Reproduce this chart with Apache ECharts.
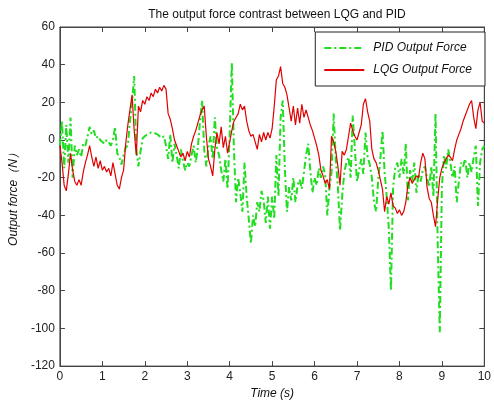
<!DOCTYPE html>
<html>
<head>
<meta charset="utf-8">
<style>
  html, body { margin: 0; padding: 0; background: #fff; }
  #chart { width: 494px; height: 405px; }
</style>
<script src="https://cdn.jsdelivr.net/npm/echarts@6/dist/echarts.min.js"></script>
</head>
<body>
<div id="chart"></div>
<script>
  // sample step of both series, in seconds
  var step = 0.05;

  // PID output force (N), one value every 0.05 s from 0 to 10 s
  var pidForce = [
    -3, 10, -15, 8, -12, 12, -20, -3, -8, -5,
    -9, -2, -3, 2, 7, 3, 5, 1, 2, 0,
    -1, -2, 0, -1, -3, 0, 7, -7, -9, -13,
    -8, -4, -3, 10, 20, 34, -5, -14, -6, 1,
    2, 3, 3.5, 4, 4, 3.5, 3, 2, 1, 2,
    -3, -10, 3, -12, -2, -8, -15, -5, -11, -16,
    -12, -14, -8, -3, -12, -4, 10, 21, -5, -14,
    -3, 2, -10, 12, -4, -8, -16, -22, -10, -26,
    3, 41, -5, -33, -20, -28, -38, -12, -30, -42,
    -55, -40, -46, -33, -38, -27, -32, -44, -30, -47,
    -30, -42, -8, -30, 12, 21, -15, -38, -25, -32,
    -20, -33, -24, -21, -26, -17, -8, -2, -16, -28,
    -20, -24, -15, -20, -14, -18, -40, -26, -17, 14,
    -10, -25, -48, -30, -17, -12, -9, -20, 13, -5,
    -22, -16, -10, -18, 4, -9, -13, -20, -33, -38,
    -21, -10, 5, -17, -30, -47, -80, -25, -15, -12,
    -20, -10, -18, -2, -32, -16, -22, -12, -28, -18,
    -22, -16, -14, -20, -25, -14, -30, 14, -53, -102,
    -25, -8, -15, -5, -12, -20, -14, -33, -22, -12,
    -14, -10, -20, -12, -17, -9, -3, -35, -12, -5,
    -3
  ];

  // LQG output force (N), same time steps
  var lqgForce = [
    -3, -12, -24, -27, -18, -7, -16, -22, -24, -21,
    -24, -17, -12, -8, -3, -9, -14, -9, -15, -11,
    -16, -14, -17, -15, -19, -12, -18, -24, -26, -20,
    -16, -2, 8, 16, 24, 5, -8, 18, 15, 21,
    19, 23, 21, 25, 23, 27, 25, 28, 26, 29,
    27, 14, 11, 6, 0, -3, -6, -9, -7, -11,
    -6, -9, -2, 2, 5, 9, 13, 16, 18, 2,
    -10, -14, -19, -5, 4, -2, 7, -4, 2, -7,
    -1, 5, 10, 12, 14, 19, 16, 18, 10, 5,
    2, 3, -1, -5, 3, -1, 4, 0, 4, 1,
    6, 18, 32, 34, 39, 30, 28, 24, 17, 10,
    18, 8, 17, 9, 19, 12, 16, 12, 8, 5,
    1, -3, -8, -16, -19, -23, -21, -26, 2, -1,
    -6, -14, -24, -6, -8, -5, 2, 9, 5, 2,
    0, 4, 8, 19, 22, 15, 10, -5, -10, -12,
    -16, -21, -26, -38, -30, -34, -28, -35, -36, -39,
    -37, -40, -38, -33, -24, -20, -23, -21, -19, -20,
    -12, -7, -10, -25, -31, -33, -40, -46, -32, -20,
    -15, -12, -10, -8, -9, -11, -5, 0, 3, 6,
    10, 13, 16, 19, 21, 12, 6, 16, 20, 10,
    9
  ];

  var xTicks = [0, 10, 1];      // min, max, interval
  var yTicks = [-120, 60, 20];

  function toPairs (values) {
    return values.map(function (v, i) {
      return [+(i * step).toFixed(2), v];
    });
  }

  var font = 'Liberation Sans, Arial, sans-serif';
  var axisColor = '#444';
  var myChart = echarts.init(document.getElementById('chart'));

  var tickStyle = {
    show: true,
    inside: true,
    length: 5,
    lineStyle: { color: axisColor, width: 1 }
  };
  var lineOf = { show: true, onZero: false, lineStyle: { color: axisColor } };
  var labelOf = { fontFamily: font, fontSize: 12, color: '#222', margin: 5 };
  var nameOf = { fontFamily: font, fontSize: 12, fontStyle: 'italic', color: '#111' };

  myChart.setOption({
    animation: false,
    backgroundColor: '#fff',
    title: {
      text: 'The output force contrast between LQG and PID',
      left: 272,
      textAlign: 'center',
      top: 4,
      textStyle: {
        fontFamily: font,
        fontSize: 12,
        fontWeight: 'normal',
        color: '#111'
      }
    },
    legend: {
      orient: 'vertical',
      right: 9,
      top: 32,
      padding: [10, 13, 10, 8],
      itemGap: 10,
      itemWidth: 40,
      itemHeight: 10,
      borderColor: '#222',
      borderWidth: 1,
      backgroundColor: '#fff',
      itemStyle: { opacity: 0 },
      textStyle: {
        fontFamily: font,
        fontSize: 12,
        fontStyle: 'italic',
        color: '#111',
        padding: [0, 0, 0, 4]
      },
      data: ['PID Output Force', 'LQG Output Force']
    },
    grid: {
      left: 58,
      right: 7,
      top: 27,
      bottom: 38,
      show: true,
      borderColor: axisColor,
      borderWidth: 1,
      containLabel: false
    },
    xAxis: [{
      type: 'value',
      min: xTicks[0],
      max: xTicks[1],
      interval: xTicks[2],
      name: 'Time (s)',
      nameLocation: 'middle',
      nameGap: 20,
      nameTextStyle: nameOf,
      axisLine: lineOf,
      axisTick: tickStyle,
      splitLine: { show: false },
      axisLabel: labelOf
    }, {
      type: 'value',
      position: 'top',
      min: xTicks[0],
      max: xTicks[1],
      interval: xTicks[2],
      axisLine: lineOf,
      axisTick: tickStyle,
      axisLabel: { show: false },
      splitLine: { show: false }
    }],
    yAxis: [{
      type: 'value',
      min: yTicks[0],
      max: yTicks[1],
      interval: yTicks[2],
      name: 'Output force（N）',
      nameLocation: 'middle',
      nameGap: 38,
      nameTextStyle: nameOf,
      axisLine: lineOf,
      axisTick: tickStyle,
      splitLine: { show: false },
      axisLabel: labelOf
    }, {
      type: 'value',
      position: 'right',
      min: yTicks[0],
      max: yTicks[1],
      interval: yTicks[2],
      axisLine: lineOf,
      axisTick: tickStyle,
      axisLabel: { show: false },
      splitLine: { show: false }
    }],
    series: [{
      name: 'PID Output Force',
      type: 'line',
      data: toPairs(pidForce),
      showSymbol: false,
      symbol: 'none',
      color: '#22dd22',
      lineStyle: {
        color: '#22dd22',
        width: 2,
        type: [7, 3, 2, 3]
      },
      z: 2
    }, {
      name: 'LQG Output Force',
      type: 'line',
      data: toPairs(lqgForce),
      showSymbol: false,
      symbol: 'none',
      color: '#e00000',
      lineStyle: {
        color: '#e00000',
        width: 1.2
      },
      z: 3
    }]
  });
</script>
</body>
</html>
